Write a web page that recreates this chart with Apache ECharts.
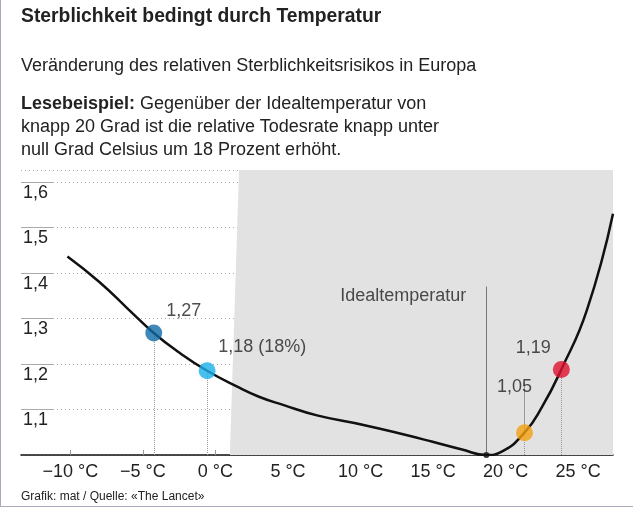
<!DOCTYPE html>
<html><head><meta charset="utf-8">
<script src="https://cdn.jsdelivr.net/npm/echarts@6/dist/echarts.min.js"></script>
<style>
body{margin:0;background:#fff;font-family:"Liberation Sans",Arial,sans-serif;}
#wrap{position:relative;width:632px;height:506px;border-left:1px solid #aab;border-bottom:1px solid #aab;}
#chart{position:absolute;left:0;top:0;width:632px;height:506px;}
.t{position:absolute;left:20px;color:#222;white-space:nowrap;}
</style></head><body>
<div id="wrap">
<div id="chart"></div>
<div class="t" style="top:3px;font-weight:bold;font-size:21px;transform:scaleX(0.92);transform-origin:left;">Sterblichkeit bedingt durch Temperatur</div>
<div class="t" style="top:55px;font-size:18px;">Veränderung des relativen Sterblichkeitsrisikos in Europa</div>
<div class="t" style="top:92px;font-size:18px;line-height:23px;"><b>Lesebeispiel:</b> Gegenüber der Idealtemperatur von<br>knapp 20 Grad ist die relative Todesrate knapp unter<br>null Grad Celsius um 18 Prozent erhöht.</div>
<div class="t" style="top:489px;font-size:12px;">Grafik: mat / Quelle: «The Lancet»</div>
</div>
<script>
// Temperatur (°C) und relatives Risiko
var temps = [-10.2, -8, -6, -4.25, -2.5, -0.57, 1.5, 3, 4.66, 7, 10.2, 13, 14.97, 17, 18.67, 19.7, 21.3, 22.5, 23.84, 25.6, 27.4];
var risk  = [1.436, 1.38, 1.32, 1.268, 1.225, 1.185, 1.150, 1.128, 1.110, 1.087, 1.066, 1.045, 1.029, 1.012, 1.0, 1.007, 1.049, 1.105, 1.188, 1.318, 1.53];
var bandW = [0.03, 0.025, 0.02, 0.018, 0.016, 0.015, 0.014, 0.013, 0.012, 0.011, 0.01, 0.008, 0.006, 0.004, 0.0, 0.004, 0.012, 0.02, 0.03, 0.05, 0.085];
var yTicks = [1.1, 1.2, 1.3, 1.4, 1.5, 1.6];
var xTicks = [-10, -5, 0, 5, 10, 15, 20, 25];
var dots = [
  { t: -4.25, v: 1.268, label: '1,27', color: '#0f6aa6', off: [30, -22] },
  { t: -0.57, v: 1.185, label: '1,18 (18%)', color: '#1ab0e8', off: [55, -24] },
  { t: 21.3, v: 1.049, label: '1,05', color: '#f5a00f', off: [-10, -46] },
  { t: 23.84, v: 1.188, label: '1,19', color: '#e0102e', off: [-28, -21] }
];
var xMin = -13.4, xMax = 27.4, yMin = 1.0, yMax = 1.626;

var chart = echarts.init(document.getElementById('chart'));
var lower = temps.map((t, i) => [t, risk[i] - bandW[i]]);
var width2 = temps.map((t, i) => [t, 2 * bandW[i]]);
var dotted = { type: 'dotted', color: '#999', width: 1 };

function seg(a, b, style) { return [{ coord: a, lineStyle: style }, { coord: b }]; }
var markLines = yTicks.map(v => seg([xMin, v], [xMin + 2.2, v], { type: 'solid', color: '#aaa', width: 1 }));
dots.forEach(d => markLines.push(seg([d.t, yMin], [d.t, d.v], dotted)));
markLines.push(seg([21.3, 1.049], [21.3, 1.16], { type: 'solid', color: '#999', width: 1 }));
markLines.push(seg([18.67, yMin], [18.67, 1.37], { type: 'solid', color: '#777', width: 1 }));

chart.setOption({
  animation: false,
  grid: { left: 20, right: 20, top: 170, bottom: 51 },
  xAxis: {
    type: 'value', min: xMin, max: xMax,
    axisLine: { lineStyle: { color: '#111', width: 1.5 } },
    axisTick: { show: true, inside: true, length: 5, customValues: xTicks, lineStyle: { color: '#999' } },
    axisLabel: { customValues: xTicks, formatter: v => (v < 0 ? '\u2212' + (-v) : v) + ' °C', fontSize: 18, color: '#222', margin: 8 },
    splitLine: { show: false }
  },
  yAxis: {
    type: 'value', min: yMin, max: yMax,
    axisLine: { show: false }, axisTick: { show: false },
    axisLabel: { customValues: yTicks, inside: true, verticalAlign: 'top', margin: 0, padding: [2, 0, 0, 2], formatter: v => v.toFixed(1).replace('.', ','), fontSize: 18, color: '#222' },
    splitLine: { show: true, lineStyle: { type: [1, 3], color: '#aaa' } },
    interval: 0.1
  },
  series: [
    { type: 'line', data: lower, stack: 'b', smooth: true, symbol: 'none', lineStyle: { width: 0 } },
    { type: 'line', data: width2, stack: 'b', smooth: true, symbol: 'none', lineStyle: { width: 0 }, areaStyle: { color: '#e2e2e2', opacity: 1 } },
    { type: 'line', data: temps.map((t, i) => [t, risk[i]]), smooth: true, symbol: 'none', lineStyle: { color: '#111', width: 2.5 }, z: 5,
      markLine: { silent: true, symbol: 'none', label: { show: false }, data: markLines },
      markPoint: { symbol: 'circle', symbolSize: 6, itemStyle: { color: '#333' }, label: { show: false }, data: [{ coord: [18.67, 1.0] }] }
    },
    { type: 'scatter', z: 6, symbolSize: 17,
      data: dots.map(d => ({ value: [d.t, d.v], itemStyle: { color: d.color } })),
      label: { show: false }
    },
    { type: 'scatter', symbolSize: 0, silent: true, z: 7,
      data: dots.map(d => ({ value: [d.t, d.v], label: { formatter: d.label, offset: d.off } }))
        .concat([{ value: [18.67, 1.37], label: { formatter: 'Idealtemperatur', offset: [-83, 9] } }]),
      label: { show: true, position: 'inside', fontSize: 18, color: '#222' }
    }
  ]
});
</script>
</body></html>
